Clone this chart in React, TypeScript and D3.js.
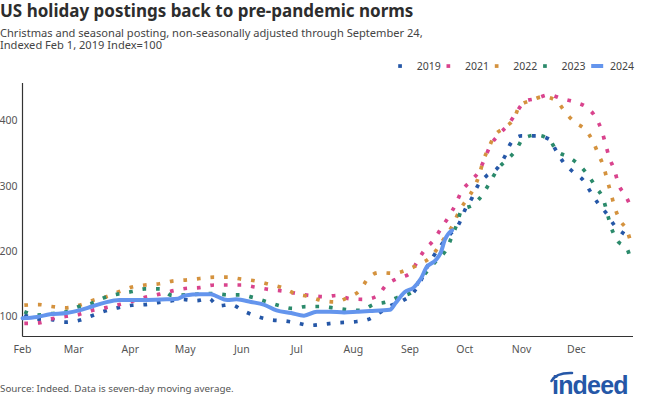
import React from "react";
import * as d3 from "d3";

type Pt = [string, number];

// Every series is placed on one shared Feb → Dec axis (month-day only).
const BASE_YEAR = 2019;

const monthTickDates = ["02-01", "03-01", "04-01", "05-01", "06-01", "07-01", "08-01", "09-01", "10-01", "11-01", "12-01"];
const monthTickLabels = ["Feb", "Mar", "Apr", "May", "Jun", "Jul", "Aug", "Sep", "Oct", "Nov", "Dec"];
const yTickValues = [100, 200, 300, 400];

const seriesNames = ["2019", "2021", "2022", "2023", "2024"];
const seriesColors = ["#2557a7", "#d9438d", "#d4923e", "#2b8a6b", "#6495ed"];

const values2019: Pt[] = [
  ["02-02", 102], ["02-09", 96], ["02-17", 95], ["02-24", 91], ["03-03", 93], ["03-11", 101], ["03-18", 108],
  ["03-25", 113], ["04-02", 117], ["04-09", 118], ["04-16", 121], ["04-22", 123], ["04-29", 126], ["05-07", 124],
  ["05-14", 127], ["05-19", 116], ["05-26", 118], ["06-02", 108], ["06-09", 100], ["06-16", 95], ["06-24", 93],
  ["07-01", 90], ["07-08", 86], ["07-16", 88], ["07-23", 90], ["08-03", 92], ["08-09", 95], ["08-15", 105],
  ["08-21", 116], ["08-28", 124], ["09-03", 137], ["09-07", 155], ["09-10", 174], ["09-14", 193], ["09-18", 209],
  ["09-23", 226], ["09-28", 243], ["10-01", 263], ["10-05", 282], ["10-08", 300], ["10-13", 316], ["10-19", 328],
  ["10-23", 346], ["10-26", 365], ["11-01", 377], ["11-09", 377], ["11-16", 372], ["11-20", 354], ["11-24", 336],
  ["11-29", 322], ["12-05", 308], ["12-09", 290], ["12-13", 273], ["12-18", 256], ["12-22", 239], ["12-28", 225],
];

const values2021: Pt[] = [
  ["02-02", 89], ["02-10", 90], ["02-17", 96], ["02-25", 100], ["03-04", 103], ["03-11", 109], ["03-18", 113],
  ["03-26", 118], ["04-02", 123], ["04-09", 129], ["04-17", 134], ["04-24", 139], ["05-02", 143], ["05-09", 144],
  ["05-17", 148], ["05-24", 148], ["06-01", 148], ["06-08", 145], ["06-16", 141], ["06-23", 139], ["07-01", 135],
  ["07-08", 132], ["07-16", 130], ["07-23", 132], ["07-30", 127], ["08-07", 126], ["08-14", 131], ["08-19", 148],
  ["08-25", 158], ["09-01", 166], ["09-05", 184], ["09-09", 202], ["09-14", 217], ["09-18", 235], ["09-22", 252],
  ["09-26", 272], ["09-29", 291], ["10-04", 307], ["10-09", 324], ["10-12", 343], ["10-15", 362], ["10-20", 380],
  ["10-25", 395], ["10-29", 412], ["11-03", 430], ["11-09", 434], ["11-16", 440], ["11-23", 434], ["12-01", 428],
  ["12-07", 420], ["12-12", 403], ["12-15", 384], ["12-17", 364], ["12-19", 344], ["12-22", 323], ["12-24", 303],
  ["12-28", 285], ["12-31", 266],
];

const values2022: Pt[] = [
  ["02-02", 117], ["02-10", 118], ["02-17", 115], ["02-25", 113], ["03-04", 117], ["03-12", 125], ["03-19", 130],
  ["03-26", 138], ["04-02", 145], ["04-09", 148], ["04-17", 150], ["04-24", 154], ["05-02", 156], ["05-09", 158],
  ["05-17", 160], ["05-24", 160], ["06-01", 157], ["06-09", 154], ["06-16", 149], ["06-23", 144], ["06-30", 135],
  ["07-08", 130], ["07-15", 124], ["07-22", 122], ["07-29", 129], ["08-05", 141], ["08-09", 158], ["08-15", 167],
  ["08-23", 166], ["08-30", 171], ["09-06", 180], ["09-12", 190], ["09-17", 208], ["09-21", 225], ["09-25", 243],
  ["09-28", 262], ["10-02", 279], ["10-06", 297], ["10-09", 318], ["10-11", 338], ["10-14", 358], ["10-17", 376],
  ["10-23", 390], ["10-28", 404], ["10-31", 423], ["11-06", 431], ["11-13", 437], ["11-20", 431], ["11-25", 413],
  ["11-30", 398], ["12-06", 386], ["12-10", 369], ["12-13", 349], ["12-16", 329], ["12-18", 308], ["12-20", 288],
  ["12-22", 267], ["12-25", 247], ["12-29", 230], ["12-31", 211],
];

const values2023: Pt[] = [
  ["02-02", 107], ["02-09", 102], ["02-17", 104], ["02-25", 107], ["03-04", 115], ["03-11", 120], ["03-18", 129],
  ["03-25", 134], ["04-02", 138], ["04-09", 142], ["04-17", 142], ["04-24", 132], ["05-01", 133], ["05-08", 134],
  ["05-16", 135], ["05-24", 133], ["05-31", 133], ["06-07", 129], ["06-15", 122], ["06-22", 116], ["06-29", 112],
  ["07-06", 115], ["07-14", 115], ["07-21", 113], ["07-29", 110], ["08-05", 109], ["08-12", 118], ["08-19", 122],
  ["08-26", 130], ["09-02", 137], ["09-06", 154], ["09-11", 171], ["09-16", 187], ["09-21", 203], ["09-24", 223],
  ["09-27", 244], ["09-29", 262], ["10-06", 272], ["10-11", 288], ["10-15", 307], ["10-19", 326], ["10-24", 340],
  ["10-29", 355], ["11-02", 373], ["11-09", 378], ["11-16", 372], ["11-20", 355], ["11-27", 344], ["12-03", 331],
  ["12-08", 314], ["12-12", 297], ["12-16", 278], ["12-18", 257], ["12-20", 237], ["12-23", 218], ["12-29", 202],
  ["12-31", 183],
];

const values2024: Pt[] = [
  ["02-01", 97], ["02-09", 99], ["02-16", 103], ["02-25", 105], ["03-04", 109], ["03-11", 115], ["03-18", 121],
  ["03-26", 125], ["04-02", 125], ["04-10", 125], ["04-21", 126], ["04-27", 127], ["05-01", 132], ["05-09", 134],
  ["05-15", 134], ["05-18", 131], ["05-24", 125], ["05-29", 126], ["06-06", 122], ["06-13", 118], ["06-20", 109],
  ["06-28", 105], ["07-05", 101], ["07-12", 107], ["07-19", 107], ["07-27", 106], ["08-03", 107], ["08-10", 108],
  ["08-21", 110], ["08-24", 120], ["08-29", 137], ["09-03", 144], ["09-07", 158], ["09-10", 175], ["09-15", 186],
  ["09-18", 199], ["09-20", 217], ["09-24", 232],
];

const seriesValues = [values2019, values2021, values2022, values2023, values2024];

const titleText = "US holiday postings back to pre-pandemic norms";
const subtitleLines = [
  "Christmas and seasonal posting, non-seasonally adjusted through September 24,",
  "Indexed Feb 1, 2019 Index=100",
];
const sourceText = "Source: Indeed. Data is seven-day moving average.";

const FONT = "'Noto Sans', 'Open Sans', sans-serif";

const parseMD = (md: string) => new Date(BASE_YEAR, +md.slice(0, 2) - 1, +md.slice(3, 5));

export default function App() {
  const width = 650;
  const height = 400;

  const x = d3
    .scaleTime()
    .domain([new Date(BASE_YEAR, 1, 1), new Date(BASE_YEAR + 1, 0, 1)])
    .range([22.5, 633]);
  const y = d3.scaleLinear().domain([69, 458]).range([336.5, 83]);

  const line = d3
    .line<Pt>()
    .x((d) => x(parseMD(d[0])))
    .y((d) => y(d[1]))
    .curve(d3.curveMonotoneX);

  const [x0, x1] = x.range();
  const [yBottom, yTop] = y.range();

  return (
    <div style={{ position: "absolute", left: 0, top: 0 }}>
      <svg width={width} height={height} style={{ display: "block", background: "#fff" }} fontFamily={FONT}>
        {/* Title */}
        <text x={0} y={17} fontSize={17} fontWeight={700} fill="#2d2d2d">
          {titleText}
        </text>
        {subtitleLines.map((t, i) => (
          <text key={i} x={0} y={37 + i * 12.2} fontSize={11.1} fill="#444">
            {t}
          </text>
        ))}

        {/* Legend */}
        {seriesNames.map((name, i) => {
          const base = 394 + i * 48.3;
          const isLine = i === seriesNames.length - 1;
          return (
            <g key={name}>
              {isLine ? (
                <line x1={base + 4} x2={base + 16} y1={66} y2={66} stroke={seriesColors[i]} strokeWidth={4} />
              ) : (
                <rect x={base + 4.2} y={64.2} width={3.7} height={3.7} fill={seriesColors[i]} />
              )}
              <text x={base + 22.7} y={70} fontSize={10.5} fill="#444">
                {name}
              </text>
            </g>
          );
        })}

        {/* Axes */}
        <line x1={x0} x2={x0} y1={yTop} y2={yBottom} stroke="#333" strokeWidth={1.2} />
        <line x1={x0} x2={x1} y1={yBottom} y2={yBottom} stroke="#333" strokeWidth={1.2} />
        {yTickValues.map((v) => (
          <text key={v} x={17.5} y={y(v)} dy="0.35em" textAnchor="end" fontSize={10.5} fill="#555">
            {v}
          </text>
        ))}
        {monthTickDates.map((md, i) => (
          <text key={md} x={x(parseMD(md))} y={353} textAnchor="middle" fontSize={10.5} fill="#555">
            {monthTickLabels[i]}
          </text>
        ))}

        {/* Series */}
        {seriesValues.map((vals, i) => {
          const isLine = i === seriesValues.length - 1;
          return (
            <path
              key={seriesNames[i]}
              d={line(vals) || ""}
              fill="none"
              stroke={seriesColors[i]}
              strokeWidth={isLine ? 4 : 3.7}
              strokeDasharray={isLine ? undefined : "3.7 9.9"}
              strokeLinejoin="round"
              strokeLinecap={isLine ? "round" : "butt"}
            />
          );
        })}

        {/* Footer */}
        <text x={0} y={392} fontSize={9.8} fill="#555">
          {sourceText}
        </text>
        <g>
          <path d="M551.5,381 Q556,372.5 572,373" fill="none" stroke="#2557a7" strokeWidth={2.6} strokeLinecap="round" />
          <text x={552} y={394} fontSize={25} fontWeight={700} fill="#2557a7" letterSpacing={-0.8} fontFamily="'Liberation Sans', Arial, sans-serif">
            indeed
          </text>
        </g>
      </svg>
    </div>
  );
}
